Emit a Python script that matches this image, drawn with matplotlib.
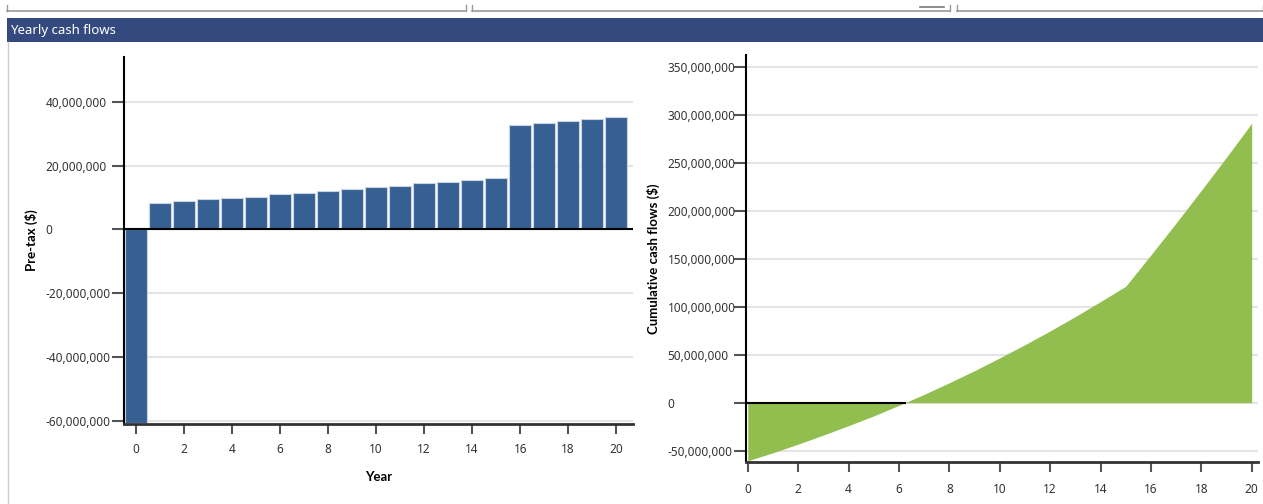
import numpy as np
import matplotlib
matplotlib.use("Agg")
import matplotlib.pyplot as plt
from matplotlib.patches import Rectangle
from matplotlib.lines import Line2D
from matplotlib.ticker import FuncFormatter

plt.rcParams['font.family'] = ['Noto Sans', 'DejaVu Sans']

# data (dollars)
years = list(range(0, 21))
pretax = [-60.8e6, 8.3e6, 9.0e6, 9.4e6, 9.8e6, 10.2e6, 11.0e6, 11.4e6, 12.1e6,
          12.55e6, 13.3e6, 13.7e6, 14.45e6, 14.9e6, 15.6e6, 16.0e6,
          32.6e6, 33.3e6, 34.0e6, 34.45e6, 35.3e6]
cumulative = [-60.5e6, -52.2e6, -43.2e6, -33.8e6, -24.0e6, -13.8e6, -2.8e6,
              8.6e6, 20.7e6, 33.3e6, 46.6e6, 60.3e6, 74.7e6, 89.6e6, 105.2e6,
              121.2e6, 153.8e6, 187.1e6, 221.1e6, 255.6e6, 290.9e6]
left_yticks = [-60e6, -40e6, -20e6, 0, 20e6, 40e6]
right_yticks = [-50e6, 0, 50e6, 100e6, 150e6, 200e6, 250e6, 300e6, 350e6]
xticks = list(range(0, 21, 2))

W, H = 1263, 504
fig = plt.figure(figsize=(W / 100, H / 100), dpi=100)


def fx(px):
    return px / W


def fy(py):
    return 1 - py / H


# top ui strip
grey = '#9a9a9a'
for x0, x1 in [(7, 466), (472, 950), (957, 1263)]:
    fig.add_artist(Line2D([fx(x0), fx(x1)], [fy(11), fy(11)], color=grey, lw=1.2))
    fig.add_artist(Line2D([fx(x0), fx(x0)], [fy(11), fy(5)], color=grey, lw=1))
    fig.add_artist(Line2D([fx(x1), fx(x1)], [fy(11), fy(5)], color=grey, lw=1))
fig.add_artist(Line2D([fx(920), fx(944)], [fy(7), fy(7)], color='#777777', lw=1.2))

# header
fig.add_artist(Rectangle((fx(7), fy(42)), fx(W - 7), 24 / H, transform=fig.transFigure,
                         facecolor='#344a7f', edgecolor='none'))
fig.text(fx(10), fy(30.5), 'Yearly cash flows', color='white', fontsize=9.5,
         va='center', ha='left')
fig.add_artist(Line2D([fx(8), fx(8)], [fy(42), 0], color='#cccccc', lw=1))

tick_col = '#555555'
lab_col = '#333333'
grid_col = '#e4e4e4'
bold_font = ['Lato', 'DejaVu Sans']


def money(v, pos):
    return '{:,.0f}'.format(v)


def style_axes(ax):
    for s in ['top', 'right']:
        ax.spines[s].set_visible(False)
    ax.spines['left'].set_color('black')
    ax.spines['left'].set_linewidth(1.5)
    ax.spines['bottom'].set_color('#333333')
    ax.spines['bottom'].set_linewidth(2)
    ax.yaxis.set_major_formatter(FuncFormatter(money))
    ax.tick_params(axis='y', length=8.5, width=1.5, color=tick_col, pad=48,
                   labelsize=8.5, labelcolor=lab_col)
    ax.tick_params(axis='x', length=7.5, width=1.5, color=tick_col, pad=6,
                   labelsize=8.5, labelcolor=lab_col)
    for t in ax.get_yticklabels():
        t.set_ha('left')
    ax.grid(axis='y', color=grid_col, lw=1.5)
    ax.set_axisbelow(True)


# left: pre-tax bars
ax1 = fig.add_axes([fx(124), fy(424), fx(633 - 124), (424 - 57) / H])
ax1.bar(years, pretax, width=0.92, color='#366092', edgecolor='#c9d4e2', linewidth=0.8,
        zorder=2)
ax1.axhline(0, color='black', lw=1.5, zorder=3)
ax1.set_xlim(-0.5, 20.7)
ax1.set_ylim(-61.0e6, 54e6)
ax1.set_yticks(left_yticks)
ax1.set_xticks(xticks)
style_axes(ax1)
ax1.set_xlabel('Year', fontsize=9.5, fontweight='bold', family=bold_font, labelpad=11)
ax1.set_ylabel('Pre-tax ($)', fontsize=9.5, fontweight='bold', family=bold_font)
ax1.yaxis.set_label_coords((38 - 124) / (633 - 124), 0.5)

# right: cumulative area
ax2 = fig.add_axes([fx(746), fy(461.5), fx(1258 - 746), (461.5 - 55) / H])
ax2.fill_between(years, cumulative, 0, color='#92be50', lw=0, zorder=2)
cross = np.interp(0, cumulative, years)
ax2.plot([0, cross], [0, 0], color='black', lw=1.5, zorder=3)
ax2.set_xlim(-0.07, 20.25)
ax2.set_ylim(-61.3e6, 362e6)
ax2.set_yticks(right_yticks)
ax2.set_xticks(xticks)
style_axes(ax2)
ax2.tick_params(axis='x', pad=8)
ax2.set_ylabel('Cumulative cash flows ($)', fontsize=9.5, fontweight='bold',
               family=bold_font)
ax2.yaxis.set_label_coords((660 - 746) / (1258 - 746), 0.5)

fig.savefig('out.png', dpi=100)
